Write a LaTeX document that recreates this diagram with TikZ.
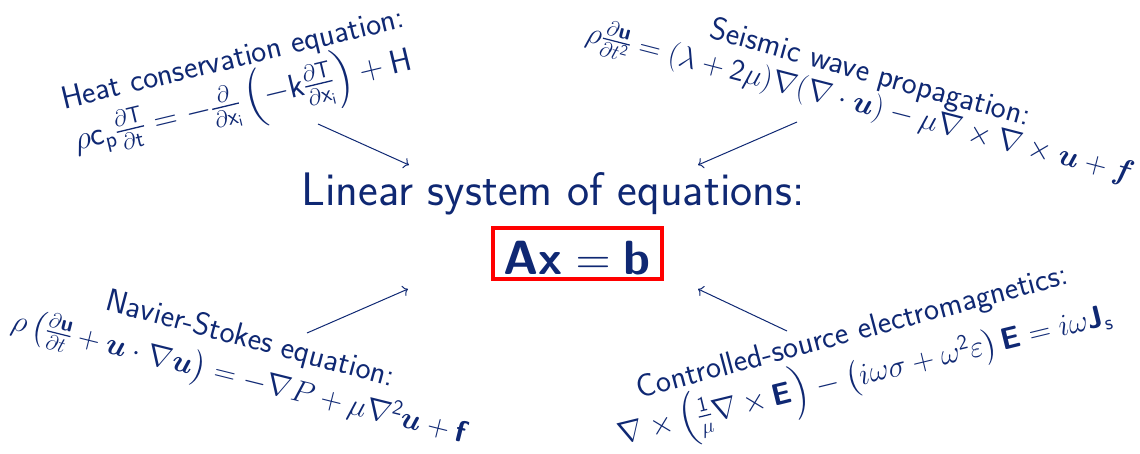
\RequirePackage{fix-cm}
\documentclass[tikz,border=0pt]{standalone}
\usepackage{amsmath,amssymb}
\usepackage{fontspec}
\usetikzlibrary{arrows.meta}
\definecolor{navy}{RGB}{15,40,115}
\newcommand{\bsf}[1]{\text{\sffamily\bfseries #1}}
\newcommand{\sv}[1]{\mathsf{#1}}
\tikzset{
  lbl/.style={text=navy, font=\sffamily\fontsize{32}{38}\selectfont, inner sep=0pt, anchor=base},
  eqn/.style={text=navy, font=\sffamily\fontsize{30.5}{36}\selectfont, inner sep=0pt, anchor=base},
  big/.style={text=navy, font=\sffamily\fontsize{47}{56}\selectfont, inner sep=0pt, anchor=base},
  conn/.style={draw=navy, line width=1pt, -{To[length=5pt,width=11pt]}},
  redbox/.style={draw=red, line width=4pt, text=navy, inner sep=0pt, anchor=base,
     minimum width=169pt, text height=46.5pt, text depth=4.5pt,
     font=\sffamily\bfseries\fontsize{48}{56}\selectfont}
}
\begin{document}
\begin{tikzpicture}[x=1pt,y=-1pt]
\useasboundingbox (0,0) rectangle (1140,453);
% centre
\node[big] (lin) at (553,205) {Linear system of equations:};
\node[redbox] (axb) at (577,274) {$\bsf{Ax}=\bsf{b}$};
% heat
\node[lbl, rotate=13.5] (heatT) at (235,68) {Heat conservation equation:};
\node[eqn, font=\sffamily\fontsize{33}{38}\selectfont, rotate=13.5] (heatE) at (245,110)
  {$\rho\sv{c_p}\frac{\partial \sv{T}}{\partial \sv{t}} = -\frac{\partial}{\partial \sv{x_i}}\left(-\sv{k}\frac{\partial \sv{T}}{\partial \sv{x_i}}\right)+\sv{H}$};
% seismic
\node[lbl, rotate=-15.5] (seisT) at (868,82) {Seismic wave propagation:};
\node[eqn, rotate=-14.5] (seisE) at (858,112)
  {$\rho\frac{\partial \bsf{u}}{\partial t^{\sv{2}}} = (\lambda+\sv{2}\mu)\nabla(\nabla\cdot\boldsymbol{u})-\mu\nabla\times\nabla\times\boldsymbol{u}+\boldsymbol{f}$};
% navier-stokes
\node[lbl, rotate=-15] (nsT) at (248,348) {Navier-Stokes equation:};
\node[eqn, rotate=-14] (nsE) at (237,386)
  {$\rho\left(\frac{\partial \bsf{u}}{\partial t}+\boldsymbol{u}\cdot\nabla\boldsymbol{u}\right) = -\nabla P+\mu\nabla^{\sv{2}}\boldsymbol{u}+\bsf{f}$};
% csem
\node[lbl, rotate=14.9] (emT) at (855,341) {Controlled-source electromagnetics:};
\node[eqn, rotate=13.7] (emE) at (867,384)
  {$\nabla\times\left(\frac{\sv{1}}{\mu}\nabla\times\bsf{E}\right)-\left(i\omega\sigma+\omega^{\sv{2}}\varepsilon\right)\bsf{E}=i\omega\bsf{J}_{\sv{s}}$};
% arrows
\coordinate (a1) at (318,124); \coordinate (b1) at (409,165);
\coordinate (a2) at (797,122); \coordinate (b2) at (698,165);
\coordinate (a3) at (307,333); \coordinate (b3) at (408,289);
\coordinate (a4) at (787,331); \coordinate (b4) at (698,289);
\draw[conn] (a1) -- (b1);
\draw[conn] (a2) -- (b2);
\draw[conn] (a3) -- (b3);
\draw[conn] (a4) -- (b4);
\end{tikzpicture}
\end{document}
